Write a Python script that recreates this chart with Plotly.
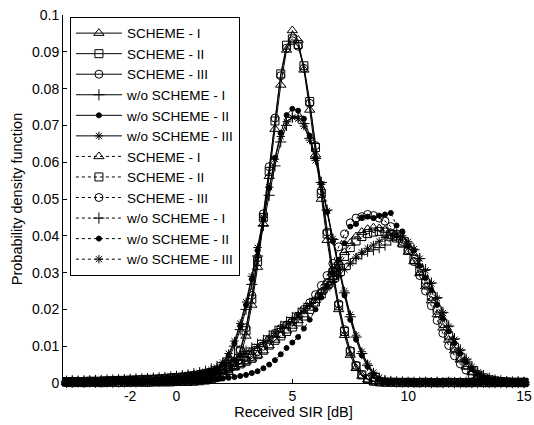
import plotly.graph_objects as go

# shared SIR grid [dB]
sir_db = [-4.75, -4.5, -4.25, -4.0, -3.75, -3.5, -3.25, -3.0, -2.75, -2.5,
          -2.25, -2.0, -1.75, -1.5, -1.25, -1.0, -0.75, -0.5, -0.25, 0.0,
          0.25, 0.5, 0.75, 1.0, 1.25, 1.5, 1.75, 2.0, 2.25, 2.5,
          2.75, 3.0, 3.25, 3.5, 3.75, 4.0, 4.25, 4.5, 4.75, 5.0,
          5.25, 5.5, 5.75, 6.0, 6.25, 6.5, 6.75, 7.0, 7.25, 7.5,
          7.75, 8.0, 8.25, 8.5, 8.75, 9.0, 9.25, 9.5, 9.75, 10.0,
          10.25, 10.5, 10.75, 11.0, 11.25, 11.5, 11.75, 12.0, 12.25, 12.5,
          12.75, 13.0, 13.25, 13.5, 13.75, 14.0, 14.25, 14.5, 14.75, 15.0]

# ---- solid-line group (narrow, around 5 dB) ----
a_scheme_1 = [0.0001,0.0002,0.0001,0.0002,0.0001,0.0002,0.0002,0.0001,0.0002,0.0002,
              0.0002,0.0001,0.0002,0.0002,0.0002,0.0003,0.0002,0.0002,0.0003,0.0003,
              0.0003,0.0004,0.0004,0.0005,0.0007,0.0009,0.0013,0.0020,0.0029,0.0042,
              0.0068,0.0128,0.0212,0.0315,0.0432,0.0562,0.0690,0.0810,0.0905,0.0958,
              0.0932,0.0851,0.0742,0.0620,0.0500,0.0388,0.0287,0.0200,0.0130,0.0076,
              0.0040,0.0019,0.0009,0.0004,0.0003,0.0002,0.0002,0.0001,0.0002,0.0001,
              0.0001,0.0002,0.0001,0.0001,0.0002,0.0001,0.0001,0.0002,0.0001,0.0001,
              0.0001,0.0001,0.0002,0.0001,0.0001,0.0001,0.0002,0.0001,0.0001,0.0001]
a_scheme_2 = [0.0002,0.0001,0.0002,0.0001,0.0002,0.0002,0.0001,0.0002,0.0002,0.0002,
              0.0002,0.0002,0.0003,0.0002,0.0002,0.0003,0.0003,0.0003,0.0003,0.0004,
              0.0004,0.0004,0.0005,0.0006,0.0008,0.0011,0.0016,0.0024,0.0035,0.0050,
              0.0085,0.0142,0.0228,0.0330,0.0450,0.0575,0.0712,0.0840,0.0918,0.0935,
              0.0920,0.0862,0.0765,0.0640,0.0515,0.0405,0.0300,0.0210,0.0140,0.0085,
              0.0046,0.0022,0.0011,0.0005,0.0003,0.0002,0.0002,0.0002,0.0001,0.0002,
              0.0001,0.0001,0.0002,0.0001,0.0001,0.0001,0.0002,0.0001,0.0001,0.0001,
              0.0001,0.0002,0.0001,0.0001,0.0001,0.0002,0.0001,0.0001,0.0001,0.0001]
a_scheme_3 = [0.0001,0.0002,0.0002,0.0001,0.0002,0.0001,0.0002,0.0002,0.0002,0.0001,
              0.0002,0.0002,0.0002,0.0003,0.0002,0.0003,0.0003,0.0003,0.0004,0.0004,
              0.0004,0.0005,0.0005,0.0007,0.0009,0.0012,0.0017,0.0026,0.0038,0.0055,
              0.0090,0.0150,0.0238,0.0340,0.0460,0.0588,0.0720,0.0835,0.0910,0.0930,
              0.0915,0.0855,0.0760,0.0645,0.0522,0.0410,0.0305,0.0215,0.0145,0.0088,
              0.0048,0.0023,0.0011,0.0005,0.0003,0.0002,0.0002,0.0001,0.0002,0.0001,
              0.0002,0.0001,0.0001,0.0002,0.0001,0.0001,0.0001,0.0001,0.0002,0.0001,
              0.0001,0.0001,0.0001,0.0002,0.0001,0.0001,0.0001,0.0001,0.0001,0.0002]
a_wo_1 = [0.0002,0.0002,0.0003,0.0002,0.0003,0.0002,0.0003,0.0003,0.0002,0.0003,
          0.0003,0.0004,0.0003,0.0004,0.0004,0.0005,0.0005,0.0006,0.0006,0.0007,
          0.0008,0.0009,0.0011,0.0013,0.0017,0.0023,0.0032,0.0046,0.0068,0.0100,
          0.0145,0.0200,0.0268,0.0345,0.0428,0.0510,0.0590,0.0655,0.0700,0.0722,
          0.0725,0.0705,0.0665,0.0610,0.0545,0.0470,0.0390,0.0315,0.0245,0.0180,
          0.0125,0.0080,0.0048,0.0026,0.0013,0.0007,0.0004,0.0003,0.0003,0.0002,
          0.0002,0.0002,0.0002,0.0001,0.0002,0.0001,0.0002,0.0001,0.0001,0.0002,
          0.0001,0.0001,0.0002,0.0001,0.0001,0.0001,0.0001,0.0001,0.0002,0.0001]
a_wo_2 = [0.0002,0.0003,0.0002,0.0003,0.0002,0.0003,0.0003,0.0002,0.0003,0.0003,
          0.0004,0.0003,0.0004,0.0004,0.0005,0.0005,0.0006,0.0006,0.0007,0.0008,
          0.0009,0.0010,0.0012,0.0015,0.0019,0.0026,0.0036,0.0052,0.0075,0.0108,
          0.0155,0.0212,0.0282,0.0360,0.0445,0.0530,0.0612,0.0680,0.0728,0.0745,
          0.0740,0.0718,0.0672,0.0612,0.0542,0.0465,0.0385,0.0308,0.0238,0.0172,
          0.0118,0.0075,0.0044,0.0024,0.0012,0.0006,0.0004,0.0003,0.0002,0.0002,
          0.0002,0.0001,0.0002,0.0002,0.0001,0.0002,0.0001,0.0001,0.0001,0.0002,
          0.0001,0.0001,0.0001,0.0002,0.0001,0.0001,0.0001,0.0002,0.0001,0.0001]
a_wo_3 = [0.0003,0.0002,0.0003,0.0003,0.0002,0.0003,0.0003,0.0003,0.0004,0.0003,
          0.0004,0.0004,0.0004,0.0005,0.0005,0.0006,0.0006,0.0007,0.0008,0.0009,
          0.0010,0.0011,0.0013,0.0016,0.0021,0.0028,0.0039,0.0056,0.0080,0.0114,
          0.0162,0.0220,0.0290,0.0368,0.0450,0.0532,0.0608,0.0670,0.0710,0.0722,
          0.0718,0.0698,0.0660,0.0605,0.0540,0.0468,0.0392,0.0318,0.0250,0.0186,
          0.0130,0.0085,0.0052,0.0029,0.0015,0.0008,0.0005,0.0003,0.0003,0.0002,
          0.0002,0.0002,0.0001,0.0002,0.0002,0.0001,0.0001,0.0002,0.0001,0.0001,
          0.0002,0.0001,0.0001,0.0001,0.0001,0.0002,0.0001,0.0001,0.0001,0.0001]

# ---- dotted-line group (broad, around 9 dB) ----
b_scheme_1 = [0.0003,0.0004,0.0003,0.0004,0.0004,0.0005,0.0005,0.0005,0.0006,0.0006,
              0.0007,0.0007,0.0008,0.0008,0.0009,0.0010,0.0011,0.0012,0.0013,0.0014,
              0.0015,0.0017,0.0019,0.0021,0.0024,0.0027,0.0031,0.0035,0.0040,0.0045,
              0.0051,0.0058,0.0066,0.0076,0.0088,0.0102,0.0117,0.0130,0.0142,0.0155,
              0.0170,0.0186,0.0204,0.0225,0.0248,0.0273,0.0300,0.0328,0.0355,0.0380,
              0.0398,0.0410,0.0418,0.0422,0.0420,0.0416,0.0408,0.0395,0.0378,0.0356,
              0.0330,0.0298,0.0262,0.0224,0.0186,0.0150,0.0117,0.0088,0.0063,0.0044,
              0.0030,0.0020,0.0013,0.0008,0.0005,0.0004,0.0003,0.0002,0.0002,0.0002]
b_scheme_2 = [0.0004,0.0003,0.0004,0.0004,0.0005,0.0004,0.0005,0.0006,0.0006,0.0007,
              0.0007,0.0008,0.0008,0.0009,0.0010,0.0010,0.0011,0.0012,0.0014,0.0015,
              0.0016,0.0018,0.0020,0.0022,0.0025,0.0028,0.0032,0.0036,0.0041,0.0046,
              0.0052,0.0059,0.0067,0.0077,0.0089,0.0103,0.0116,0.0128,0.0140,0.0152,
              0.0166,0.0182,0.0200,0.0220,0.0242,0.0266,0.0292,0.0318,0.0344,0.0368,
              0.0386,0.0398,0.0406,0.0410,0.0412,0.0410,0.0404,0.0394,0.0380,0.0360,
              0.0336,0.0306,0.0272,0.0236,0.0198,0.0162,0.0128,0.0097,0.0070,0.0049,
              0.0033,0.0022,0.0014,0.0009,0.0006,0.0004,0.0003,0.0002,0.0002,0.0002]
b_scheme_3 = [0.0004,0.0005,0.0004,0.0005,0.0005,0.0006,0.0006,0.0006,0.0007,0.0007,
              0.0008,0.0008,0.0009,0.0010,0.0010,0.0011,0.0012,0.0013,0.0014,0.0016,
              0.0017,0.0019,0.0021,0.0024,0.0027,0.0030,0.0034,0.0038,0.0043,0.0048,
              0.0054,0.0062,0.0072,0.0085,0.0100,0.0118,0.0135,0.0148,0.0158,0.0168,
              0.0182,0.0200,0.0218,0.0240,0.0265,0.0292,0.0325,0.0370,0.0405,0.0435,
              0.0448,0.0452,0.0458,0.0455,0.0448,0.0440,0.0425,0.0405,0.0385,0.0362,
              0.0330,0.0292,0.0250,0.0210,0.0170,0.0135,0.0102,0.0074,0.0052,0.0035,
              0.0022,0.0014,0.0009,0.0006,0.0004,0.0003,0.0003,0.0002,0.0002,0.0002]
b_wo_1 = [0.0005,0.0006,0.0005,0.0006,0.0006,0.0007,0.0007,0.0008,0.0008,0.0009,
          0.0009,0.0010,0.0011,0.0011,0.0012,0.0013,0.0014,0.0015,0.0016,0.0018,
          0.0020,0.0022,0.0025,0.0028,0.0032,0.0038,0.0045,0.0055,0.0062,0.0070,
          0.0078,0.0086,0.0095,0.0105,0.0116,0.0128,0.0141,0.0154,0.0166,0.0178,
          0.0190,0.0203,0.0216,0.0230,0.0245,0.0260,0.0276,0.0292,0.0308,0.0324,
          0.0338,0.0350,0.0358,0.0362,0.0368,0.0375,0.0388,0.0398,0.0395,0.0380,
          0.0362,0.0338,0.0308,0.0272,0.0232,0.0192,0.0155,0.0120,0.0090,0.0065,
          0.0045,0.0030,0.0020,0.0013,0.0008,0.0006,0.0004,0.0003,0.0003,0.0002]
b_wo_2 = [0.0001,0.0002,0.0001,0.0002,0.0002,0.0001,0.0002,0.0002,0.0002,0.0002,
          0.0002,0.0003,0.0002,0.0003,0.0003,0.0003,0.0004,0.0004,0.0004,0.0005,
          0.0005,0.0006,0.0006,0.0007,0.0008,0.0009,0.0010,0.0012,0.0014,0.0016,
          0.0019,0.0022,0.0027,0.0032,0.0040,0.0050,0.0062,0.0078,0.0095,0.0110,
          0.0125,0.0148,0.0172,0.0200,0.0232,0.0265,0.0300,0.0335,0.0380,0.0425,
          0.0432,0.0450,0.0452,0.0448,0.0455,0.0458,0.0462,0.0428,0.0412,0.0372,
          0.0360,0.0318,0.0285,0.0252,0.0212,0.0175,0.0140,0.0108,0.0080,0.0056,
          0.0038,0.0024,0.0015,0.0009,0.0006,0.0004,0.0003,0.0002,0.0002,0.0002]
b_wo_3 = [0.0004,0.0005,0.0005,0.0005,0.0006,0.0006,0.0006,0.0007,0.0007,0.0008,
          0.0008,0.0009,0.0010,0.0010,0.0011,0.0012,0.0013,0.0014,0.0015,0.0017,
          0.0019,0.0021,0.0024,0.0027,0.0031,0.0036,0.0042,0.0050,0.0057,0.0064,
          0.0072,0.0080,0.0089,0.0099,0.0110,0.0122,0.0135,0.0148,0.0160,0.0172,
          0.0185,0.0198,0.0212,0.0226,0.0241,0.0257,0.0273,0.0290,0.0308,0.0326,
          0.0342,0.0355,0.0366,0.0375,0.0385,0.0395,0.0405,0.0408,0.0400,0.0384,
          0.0364,0.0338,0.0306,0.0270,0.0230,0.0190,0.0153,0.0118,0.0088,0.0063,
          0.0044,0.0029,0.0019,0.0012,0.0008,0.0005,0.0004,0.0003,0.0002,0.0002]

labels = ["SCHEME - I", "SCHEME - II", "SCHEME - III",
          "w/o SCHEME - I", "w/o SCHEME - II", "w/o SCHEME - III"]
group_a = [a_scheme_1, a_scheme_2, a_scheme_3, a_wo_1, a_wo_2, a_wo_3]
group_b = [b_scheme_1, b_scheme_2, b_scheme_3, b_wo_1, b_wo_2, b_wo_3]
x_ticks = [-2, 0, 5, 10, 15]

for s in group_a + group_b:
    assert len(s) == len(sir_db), len(s)

symbols = ["triangle-up-open", "square-open", "circle-open",
           "cross-thin-open", "circle", "asterisk-open"]
sizes = [9, 8, 8, 8, 5, 7]

FONT = "Liberation Sans, Arial, sans-serif"
fig = go.Figure()
for group, dash in ((group_a, "solid"), (group_b, "dot")):
    for lab, ys, sym, sz in zip(labels, group, symbols, sizes):
        fig.add_trace(go.Scatter(
            x=sir_db, y=ys, name=lab, mode="lines+markers",
            line=dict(color="black", width=1, dash=dash),
            marker=dict(symbol=sym, size=sz, color="black",
                        line=dict(color="black", width=1)),
            cliponaxis=False))

fig.update_layout(
    width=534, height=425,
    margin=dict(l=63, r=10, t=15, b=42, autoexpand=False),
    paper_bgcolor="white", plot_bgcolor="white",
    font=dict(family=FONT, size=14, color="black"),
    showlegend=True,
    legend=dict(x=0.015, y=0.995, xanchor="left", yanchor="top",
                bgcolor="white", bordercolor="black", borderwidth=1,
                font=dict(family=FONT, size=13.5, color="black"),
                itemwidth=46, tracegroupgap=0),
    xaxis=dict(range=[-4.9, 15], tickvals=x_ticks, ticktext=[str(v) for v in x_ticks],
               showline=True, linecolor="black", linewidth=1,
               ticks="inside", ticklen=4, tickcolor="black",
               tickfont=dict(family=FONT, size=14), ticklabeloverflow="allow",
               automargin=False,
               showgrid=False, zeroline=False, mirror=False,
               title=dict(text="Received SIR [dB]", standoff=4,
                          font=dict(family=FONT, size=14.5))),
    yaxis=dict(range=[0, 0.1], dtick=0.01, tick0=0,
               showline=True, linecolor="black", linewidth=1,
               ticks="inside", ticklen=4, tickcolor="black",
               tickfont=dict(family=FONT, size=14), automargin=False,
               showgrid=False, zeroline=False, mirror=False,
               title=dict(text="Probability density function", standoff=5,
                          font=dict(family=FONT, size=14.5))),
)
fig.write_html("out.html")
